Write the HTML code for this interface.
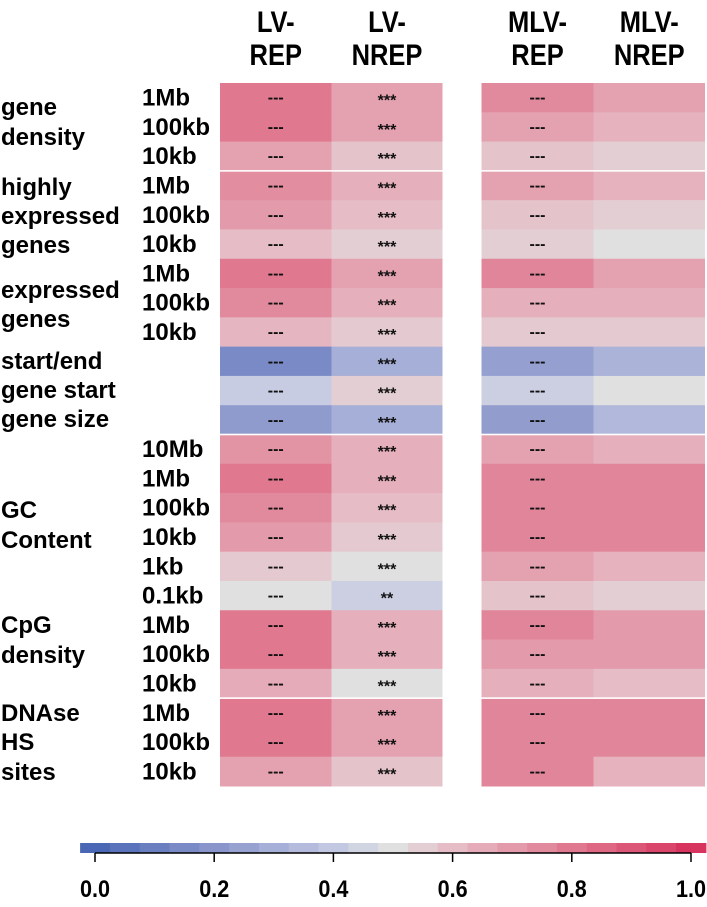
<!DOCTYPE html>
<html><head><meta charset="utf-8">
<style>
body{margin:0;background:#fff;}
svg{display:block;font-family:"Liberation Sans",Arial,sans-serif;}
</style></head>
<body>
<svg id="chart" width="707" height="907" viewBox="0 0 707 907" xmlns="http://www.w3.org/2000/svg">
</svg>
<script>
const columns = ["LV-REP","LV-NREP","MLV-REP","MLV-NREP"];
const rowLabels = ["1Mb","100kb","10kb","1Mb","100kb","10kb","1Mb","100kb","10kb","","","","10Mb","1Mb","100kb","10kb","1kb","0.1kb","1Mb","100kb","10kb","1Mb","100kb","10kb"];
const lvRep   = [.80,.80,.68,.74,.70,.60,.80,.75,.62,.15,.42,.22,.72,.80,.75,.70,.56,.50,.80,.80,.65,.80,.80,.68];
const lvNrep  = [.68,.68,.58,.64,.60,.55,.68,.64,.56,.30,.55,.30,.64,.64,.60,.56,.50,.43,.64,.64,.50,.68,.68,.58];
const mlvRep  = [.75,.68,.58,.68,.58,.55,.76,.64,.56,.24,.43,.23,.68,.76,.76,.76,.68,.58,.76,.70,.64,.76,.76,.76];
const mlvNrep = [.68,.63,.55,.63,.55,.50,.68,.64,.56,.32,.50,.34,.64,.76,.76,.76,.63,.55,.70,.70,.60,.76,.76,.63];
const marks = ["---","***","---",""];
const lvNrepMarks = ["***","***","***","***","***","***","***","***","***","***","***","***","***","***","***","***","***","**","***","***","***","***","***","***"];
const groupLabels = [["gene",107],["density",137],["highly",187],["expressed",216],["genes",245],["expressed",290],["genes",319],["start/end",361],["gene start",390],["gene size",419],["GC",510],["Content",540],["CpG",625],["density",655],["DNAse",713],["HS",742],["sites",772]];
const tickValues = [0,0.2,0.4,0.6,0.8,1.0];
const tickLabels = ["0.0","0.2","0.4","0.6","0.8","1.0"];

const NS="http://www.w3.org/2000/svg";
const svg=document.getElementById('chart');
function mk(tag,attrs,parent){const e=document.createElementNS(NS,tag);for(const k in attrs)e.setAttribute(k,attrs[k]);(parent||svg).appendChild(e);return e;}
const stops=[[0,[74,103,181]],[0.2,[138,150,203]],[0.4,[194,199,226]],[0.5,[224,224,224]],[0.6,[230,188,198]],[0.8,[224,121,143]],[1,[214,51,95]]];
function color(v){for(let i=0;i<stops.length-1;i++){const a=stops[i],b=stops[i+1];if(v<=b[0]){const t=(v-a[0])/(b[0]-a[0]);const c=a[1].map((x,j)=>Math.round(x+(b[1][j]-x)*t));return `rgb(${c[0]},${c[1]},${c[2]})`;}}return 'rgb(214,51,95)';}
const colX=[220,331.5,481.5,593.5], colW=[111.5,111,112,111.5];
const gridTop=83, rowH=(786-83)/24;
function yRow(i){return gridTop+i*rowH;}
const series=[lvRep,lvNrep,mlvRep,mlvNrep];
const names=["lv-rep","lv-nrep","mlv-rep","mlv-nrep"];
series.forEach((vals,c)=>{
  vals.forEach((v,r)=>{
    const rc=mk('rect',{x:colX[c],y:yRow(r),width:colW[c],height:rowH+0.5,fill:color(v)});
    
    
    let m = c===1 ? lvNrepMarks[r] : marks[c];
    if(m){const t=mk('text',{x:colX[c]+colW[c]/2,y:yRow(r)+rowH/2+(m==='---'?5:8),'text-anchor':'middle','font-size':16,'font-weight':'bold',fill:'#111'});
      t.textContent=m;
      
      }
  });
});
[3,12,21].forEach(r=>{[[220,443],[481.5,705]].forEach(s=>{const l=mk('rect',{x:s[0],y:yRow(r)-0.8,width:s[1]-s[0],height:1.6,fill:'#fff'});

});});
columns.forEach((c,i)=>{const parts=c.split('-');const cx=colX[i]+colW[i]/2;
 const t1=mk('text',{x:0,y:0,'text-anchor':'middle','font-size':30,'font-weight':'bold',fill:'#000',transform:`translate(${cx},32) scale(0.85,1)`});t1.textContent=parts[0]+'-';
 
 
 const t2=mk('text',{x:0,y:0,'text-anchor':'middle','font-size':30,'font-weight':'bold',fill:'#000',transform:`translate(${cx},65) scale(0.85,1)`});t2.textContent=parts[1];
 
 });
rowLabels.forEach((l,r)=>{if(!l)return;const t=mk('text',{x:142,y:yRow(r)+rowH/2+8,'font-size':24,'font-weight':'bold',fill:'#000'});t.textContent=l;
 
 });
groupLabels.forEach(g=>{const t=mk('text',{x:1,y:g[1]+8,'font-size':24,'font-weight':'bold',fill:'#000'});t.textContent=g[0];
 
 });
const cbX0=95, cbX1=691;
function xCb(v){return cbX0+(cbX1-cbX0)*v;}
const segW=(cbX1-cbX0)/20;
for(let i=0;i<=20;i++){const v=i/20;const s=mk('rect',{x:xCb(v)-segW/2,y:843,width:segW+0.5,height:10,fill:color(v)});
 
 }
const ax=mk('line',{x1:xCb(0),x2:xCb(1),y1:853,y2:853,stroke:'#000','stroke-width':1.5});


tickValues.forEach((v,i)=>{const tk=mk('line',{x1:xCb(v),x2:xCb(v),y1:853,y2:862,stroke:'#000','stroke-width':1.5});
 
 
 const t=mk('text',{x:0,y:0,'text-anchor':'middle','font-size':24,'font-weight':'bold',fill:'#000',transform:`translate(${xCb(v)},897) scale(0.9,1)`});t.textContent=tickLabels[i];
 
 });
</script>
</body></html>
